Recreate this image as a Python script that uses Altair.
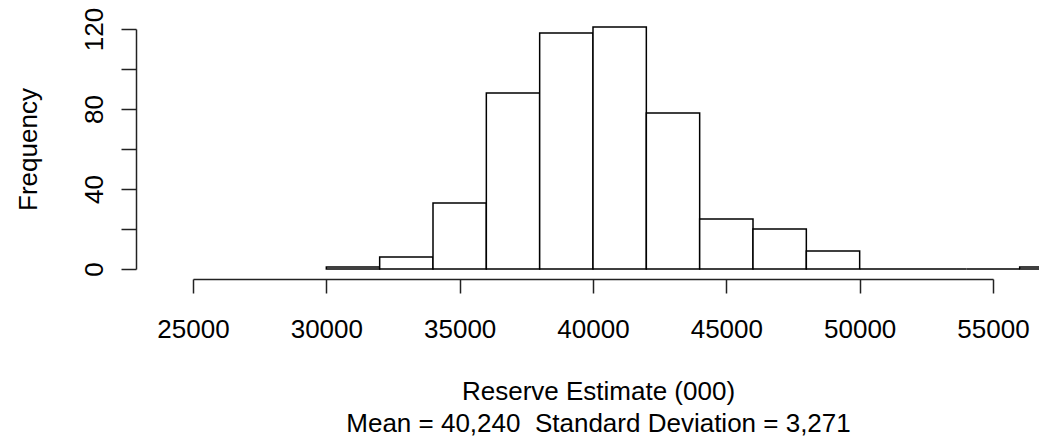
import altair as alt
import pandas as pd

# Histogram data
bin_start = [30000, 32000, 34000, 36000, 38000, 40000, 42000,
             44000, 46000, 48000, 50000, 52000, 54000, 56000]
counts = [1, 6, 33, 88, 118, 121, 78, 25, 20, 9, 0, 0, 0, 1]
bin_width = 2000

x_ticks = [25000, 30000, 35000, 40000, 45000, 50000, 55000]
y_ticks = [0, 20, 40, 60, 80, 100, 120]
x_title = ["Reserve Estimate (000)",
           "Mean = 40,240\u00a0 Standard Deviation = 3,271"]
y_title = "Frequency"

df = pd.DataFrame({
    "start": bin_start,
    "end": [s + bin_width for s in bin_start],
    "count": counts,
    "zero": [0] * len(bin_start),
})

FONT = "Liberation Sans"
LINE = "#222222"

x_axis = alt.Axis(
    values=x_ticks, format="d", grid=False,
    labelFont=FONT, labelFontSize=26, labelColor="black",
    labelPadding=23, labelFlush=False, labelOverlap=False,
    tickSize=14, tickColor=LINE, tickWidth=1.5,
    domainColor=LINE, domainWidth=1.5, offset=10,
    titleFont=FONT, titleFontSize=26, titleFontWeight="normal",
    titleColor="black", titleX=405, titleY=120, titleAlign="center",
    titleBaseline="alphabetic", titleLineHeight=32,
)

y_axis = alt.Axis(
    values=y_ticks, grid=False,
    labelExpr="datum.value % 40 == 0 ? datum.label : ''",
    labelFont=FONT, labelFontSize=26, labelColor="black",
    labelAngle=270, labelAlign="center", labelBaseline="alphabetic",
    labelPadding=19, labelFlush=False, labelOverlap=False,
    tickSize=15, tickColor=LINE, tickWidth=1.5,
    domainColor=LINE, domainWidth=1.5, offset=57,
    titleFont=FONT, titleFontSize=26, titleFontWeight="normal",
    titleColor="black", titleAngle=270, titleX=-100, titleY=120,
    titleAlign="center", titleBaseline="alphabetic",
)

chart = alt.Chart(df).mark_rect(
    fill="white", stroke="black", strokeWidth=1.5
).encode(
    x=alt.X("start:Q", scale=alt.Scale(domain=[25000, 55000], nice=False, zero=False),
            axis=x_axis, title=x_title),
    x2="end:Q",
    y=alt.Y("count:Q", scale=alt.Scale(domain=[0, 120], nice=False),
            axis=y_axis, title=y_title),
    y2="zero:Q",
).properties(
    width=800, height=240,
    autosize=alt.AutoSizeParams(type="none"),
    padding={"left": 185, "top": 21, "right": 46, "bottom": 169},
    background="white",
).configure_view(strokeWidth=0)

chart.save("out.html", embed_options={"renderer": "svg", "actions": False})
